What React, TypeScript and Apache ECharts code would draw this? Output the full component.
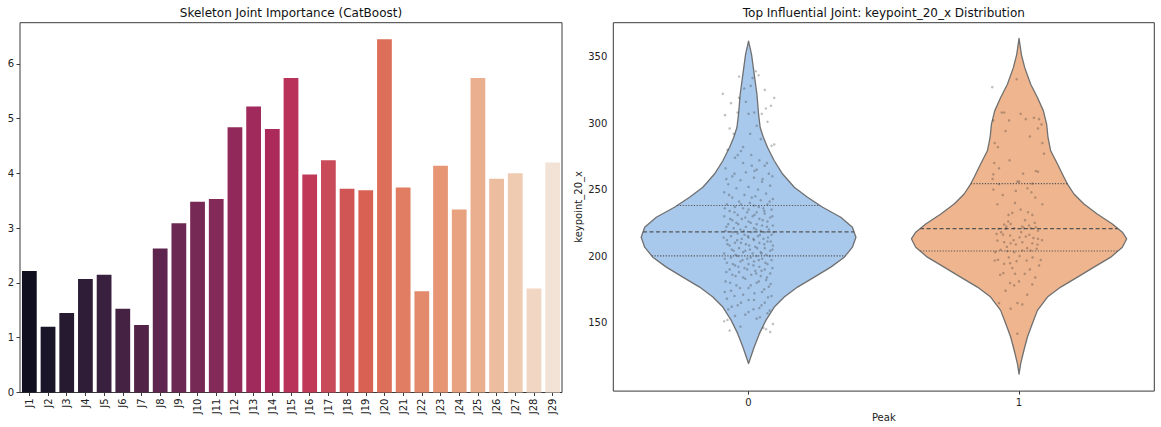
import React, { useEffect, useRef } from 'react';
import * as echarts from 'echarts';

// ---------- Left chart data ----------
const joints = ['J1','J2','J3','J4','J5','J6','J7','J8','J9','J10','J11','J12','J13','J14','J15','J16','J17','J18','J19','J20','J21','J22','J23','J24','J25','J26','J27','J28','J29'];
const importance = [2.22,1.2,1.45,2.07,2.15,1.53,1.23,2.63,3.09,3.48,3.53,4.84,5.22,4.81,5.74,3.98,4.24,3.72,3.69,6.45,3.74,1.85,4.14,3.34,5.74,3.9,4.0,1.9,4.2];
const barColors = ['#100F20','#1B1529','#261A30','#2F1D38','#3A203F','#452244','#512447','#5E264E','#6A2852','#772955','#842A58','#912A5A','#9F2A5B','#AC2A5A','#B8325A','#C03A58','#C94A58','#D05555','#D86154','#DC6E5A','#E07D62','#E3896C','#E69675','#E8A27F','#EAAF8F','#EDBD9F','#EFCBB2','#F1D6C4','#F3E2D6'];
const importanceTicks = [0,1,2,3,4,5,6];

// ---------- Right chart data ----------
const peakClasses = ['0','1'];
const keypointTicks = [150,200,250,300,350];
// violin outline: value and half-width (in category-band units)
const violin0Y = [361.7,351.7,336.7,321.7,306.7,296.7,289.2,281.8,271.7,261.7,251.8,244.3,236.7,229.2,221.7,214.2,206.7,199.2,191.7,184.2,176.7,169.2,161.7,151.7,141.7,131.7,119.2];
const violin0W = [0,0.011,0.021,0.031,0.037,0.043,0.055,0.070,0.095,0.126,0.169,0.218,0.274,0.341,0.384,0.397,0.384,0.354,0.304,0.243,0.181,0.132,0.095,0.064,0.040,0.021,0];
const violin1Y = [363.7,351.7,341.7,329.2,319.3,309.2,299.2,289.2,279.2,269.2,259.3,254.2,246.7,239.2,231.7,224.2,218.0,213.0,206.7,199.2,191.7,184.2,176.7,169.2,159.2,149.2,139.2,129.2,119.2,111.2];
const violin1W = [0,0.0085,0.021,0.043,0.068,0.090,0.102,0.107,0.117,0.142,0.166,0.179,0.203,0.240,0.289,0.345,0.382,0.398,0.382,0.339,0.277,0.216,0.154,0.105,0.068,0.049,0.031,0.018,0.006,0];
const quartiles0 = [200.2,218.2,238.0];
const quartiles1 = [203.8,220.7,254.5];
// strip points: [jitter offset, value]
const strip0 = [
  [0.027,339],[0.037,336],[-0.035,335],[0.015,334],[0.008,328],[-0.016,326],[-0.095,322],[0.095,319],[-0.035,319],[-0.065,315],[0.083,313],[0.064,311],[-0.041,308],[0,307],[0.021,308],[0.049,307],[-0.087,306],[0.07,301],[0.006,292],[-0.055,292],[0.085,283],[0.095,284],[-0.078,280],[-0.028,279],
  [0.01,276],[-0.05,274],[0.04,272],[-0.02,270],[0.06,268],[-0.085,266],[0.03,265],[-0.01,263],[0.075,262],[-0.06,260],[0.02,259],[-0.03,257],[0.05,256],[-0.075,254],[0.08,253],[0.0,252],[-0.045,251],[0.035,250],
  [-0.09,248],[0.065,247],[-0.015,246],[0.025,245],[-0.06,244],[0.09,243],[0.045,242],[-0.035,241],[0.005,240],[-0.08,239],[0.07,239],[0.02,238],[-0.05,237],[0.055,236],[-0.02,236],[0.085,235],[-0.07,234],[0.03,233],[-0.005,233],[0.06,232],[-0.04,231],[0.015,230],[-0.09,230],[0.08,229],[-0.025,228],[0.04,228],[-0.06,227],[0.07,226],[0.0,226],[-0.045,225],[0.03,224],[-0.075,224],[0.09,223],[0.05,223],[-0.01,222],[0.02,221],[-0.055,221],[0.075,220],[-0.03,220],[0.045,219],[-0.085,219],[0.01,218],[0.06,218],[-0.04,217],[-0.015,216],[0.085,216],[0.035,215],[-0.065,215],[0.0,214],[0.055,213],[-0.025,213],[0.02,212],[-0.08,212],[0.07,211],[-0.05,210],[0.04,210],[-0.01,209],[0.09,208],[-0.07,208],[0.025,207],[-0.035,206],[0.06,206],[0.005,205],[-0.055,204],[0.08,204],[0.045,203],[-0.02,203],[-0.09,202],[0.015,202],[0.065,201],[-0.04,200],[0.03,200],[-0.065,199],[0.05,198],[-0.005,198],[0.085,197],[-0.03,196],[0.02,196],[-0.08,195],[0.07,194],[0.0,194],[-0.05,193],[0.04,192],[-0.015,191],[0.06,190],[-0.07,190],[0.025,189],[-0.035,188],[0.08,187],[0.01,186],[-0.06,186],[0.045,185],
  [-0.02,184],[0.065,182],[-0.085,181],[0.03,180],[-0.045,178],[0.075,177],[0.0,176],[-0.065,174],[0.05,173],[-0.02,171],[0.085,170],[-0.08,168],[0.02,167],[0.06,165],[-0.04,163],[0.04,161],[-0.075,160],[0.0,158],[0.07,157],[-0.05,155],[0.03,153],[-0.09,151],[0.09,149],[-0.03,147],[0.055,146],[-0.07,144],[0.08,143],[0.065,145],
  [-0.072,246],[0.012,244],[0.078,241],[-0.028,239],[0.038,237],[-0.088,236],[0.0,235],[0.058,234],[-0.052,233],[0.022,231],[0.088,230],[-0.012,229],[-0.068,228],[0.052,227],[0.008,225],[-0.038,224],[0.068,222],[-0.082,222],[0.028,220],[-0.018,219],[0.092,218],[-0.058,218],[0.042,216],[-0.002,215],[-0.092,214],[0.072,214],[0.018,213],[-0.042,212],[0.082,211],[-0.028,210],[0.058,209],[-0.078,209],[0.002,208],[0.032,206],[-0.062,205],[0.088,205],[-0.012,204],[0.048,202],[-0.048,201],[0.078,200],[0.008,199],[-0.088,198],[0.038,197],[-0.022,197],[0.062,195],[-0.058,194],[0.018,193],[-0.038,192],[0.088,191],[-0.005,190],[0.048,189],[-0.082,188],[0.028,187],[-0.048,185],[0.068,184],[-0.012,183],[0.038,181],[-0.068,180],[0.082,179],[0.008,178],[-0.032,176],[0.058,175],[-0.088,173],[0.022,172],[-0.052,170],[0.072,169],[0.0,167],[-0.028,165],[0.048,163],[-0.062,162],[0.018,160],[0.078,159],[-0.012,156],[0.042,154],[-0.078,152],
  [0.052,258],[-0.052,262],[0.022,264],[-0.082,258],[0.068,270],[-0.04,276],[0.088,260],[0.012,268],[-0.02,282],[0.045,288],[-0.07,296],[0.03,298],[-0.01,316],[0.06,325]
];
const strip1 = [
  [-0.009,333],[-0.099,327],[-0.064,308],[-0.055,308],[0.006,307],[0.055,304],[-0.037,302],[0.025,303],[0.074,303],[-0.095,302],[0.083,299],[-0.09,285],[-0.078,282],[0.086,285],[0.092,277],[-0.092,270],[-0.074,266],[0.062,264],[0.07,263.5],[-0.095,261.5],[-0.098,258],[-0.006,256],[0,256],[0.049,254.5],[-0.074,254],[0.031,251],[-0.095,250],[-0.012,249],[0.046,248],[-0.08,239],[0.086,239],[0.006,235],[-0.039,231],[-0.025,232.5],[0.033,233],[0.049,231],
  [-0.055,223.7],[-0.047,222.2],[-0.031,224.2],[0.012,222.2],[0.037,223],[0.062,221.7],[-0.076,220.5],[-0.049,220.5],[-0.018,221],[0.018,221],[0.043,221],[0.07,219.2],[-0.083,216.7],[-0.059,216.2],[-0.033,215.5],[0.002,214.2],[0.025,214.7],[0.053,213.7],[0.07,213],[-0.08,211.7],[-0.055,210.5],[-0.031,209.7],[-0.012,208.7],[0.012,210.5],[0.049,209.7],[0.068,208.7],[-0.068,204.7],[-0.043,203.7],[-0.018,203],[0.012,204.2],[0.043,204.2],[0.065,205.5],[-0.09,196.7],[-0.078,197.2],[-0.055,194.2],[-0.033,194.7],[-0.009,196.2],[0.028,196.7],[0.074,193],[-0.058,187.2],[-0.015,186.7],[0.021,186.7],[-0.033,179.7],[-0.018,178],[0.049,178.7],[-0.074,164.7],[-0.031,160.5],[-0.006,164.7],[0.012,163.7],[-0.006,141.7],
  [-0.04,226],[0.022,227],[0.058,225],[-0.066,218],[0.008,218],[0.038,216],[-0.02,212],[0.085,212],[-0.045,207],[0.03,206],[-0.088,203],[0.002,200],[0.05,199],[-0.038,199],[0.08,197],[-0.025,191],[0.04,190],[-0.07,186],[0.06,184],[0.0,181],[-0.05,174],[0.03,171],[-0.015,240],[0.06,244],[-0.06,246],[0.015,262],[-0.035,272],[0.04,290],[-0.05,294],[0.07,296]
];

const FONT = 'DejaVu Sans';
const AXIS_COLOR = '#3a3a3a';

function halfWidthAt(ys: number[], ws: number[], v: number): number {
  for (let i = 0; i < ys.length - 1; i++) {
    const a = ys[i], b = ys[i + 1];
    if ((v <= a && v >= b) || (v >= a && v <= b)) {
      const t = (v - a) / (b - a || 1);
      return ws[i] + t * (ws[i + 1] - ws[i]);
    }
  }
  return 0;
}

const violins = [
  { center: 0, ys: violin0Y, ws: violin0W, q: quartiles0, fill: '#A8C8EC' },
  { center: 1, ys: violin1Y, ws: violin1W, q: quartiles1, fill: '#EFB58E' },
];

export default function App() {
  const ref = useRef<HTMLDivElement>(null);
  useEffect(() => {
    if (!ref.current) return;
    const chart = echarts.init(ref.current, null, { renderer: 'svg' });
    const tickStyle = { show: true, length: 3.5, lineStyle: { color: AXIS_COLOR, width: 1 } };
    const labelStyle = { color: '#222', fontSize: 10, fontFamily: FONT };
    const option: any = {
      animation: false,
      backgroundColor: '#ffffff',
      graphic: [
        { type: 'text', x: 291, y: 12.5, style: { text: 'Skeleton Joint Importance (CatBoost)', fontSize: 12, fontFamily: FONT, fill: '#111', textAlign: 'center', textVerticalAlign: 'middle' } },
        { type: 'text', x: 883.8, y: 12.5, style: { text: 'Top Influential Joint: keypoint_20_x Distribution', fontSize: 12, fontFamily: FONT, fill: '#111', textAlign: 'center', textVerticalAlign: 'middle' } },
      ],
      grid: [
        { left: 20, right: 599, top: 22.7, bottom: 34.5, show: true, borderColor: AXIS_COLOR, borderWidth: 1, backgroundColor: 'transparent' },
        { left: 613.3, right: 6.7, top: 22.7, bottom: 34.3, show: true, borderColor: AXIS_COLOR, borderWidth: 1, backgroundColor: 'transparent' },
      ],
      xAxis: [
        {
          type: 'category', gridIndex: 0, data: joints, boundaryGap: true,
          axisLine: { show: false },
          axisTick: { ...tickStyle, alignWithLabel: true, interval: 0 },
          axisLabel: { ...labelStyle, rotate: 90, interval: 0, margin: 6 },
          splitLine: { show: false },
        },
        {
          type: 'category', gridIndex: 1, data: peakClasses, boundaryGap: true,
          axisLine: { show: false },
          axisTick: { ...tickStyle, alignWithLabel: true },
          axisLabel: { ...labelStyle, margin: 6 },
          name: 'Peak', nameLocation: 'middle', nameGap: 18,
          nameTextStyle: { color: '#222', fontSize: 10, fontFamily: FONT },
        },
        { type: 'value', gridIndex: 1, min: -0.5, max: 1.5, show: false },
      ],
      yAxis: [
        {
          type: 'value', gridIndex: 0, min: 0, max: 6.75,
          axisLine: { show: false },
          axisTick: { ...tickStyle, customValues: importanceTicks },
          axisLabel: { ...labelStyle, margin: 6, customValues: importanceTicks },
          splitLine: { show: false },
        },
        {
          type: 'value', gridIndex: 1, min: 98.5, max: 375.5,
          axisLine: { show: false },
          axisTick: { ...tickStyle, customValues: keypointTicks },
          axisLabel: { ...labelStyle, margin: 6, customValues: keypointTicks },
          splitLine: { show: false },
          name: 'keypoint_20_x', nameLocation: 'middle', nameGap: 30, nameRotate: 90,
          nameTextStyle: { color: '#222', fontSize: 10, fontFamily: FONT },
        },
      ],
      series: [
        {
          type: 'bar', xAxisIndex: 0, yAxisIndex: 0, barWidth: '79%',
          data: importance.map((v, i) => ({ value: v, itemStyle: { color: barColors[i] } })),
          silent: true,
        },
        {
          type: 'custom', xAxisIndex: 2, yAxisIndex: 1, z: 2, silent: true,
          data: violins.map((v) => [v.center, 200]),
          renderItem: (params: any, api: any) => {
            const vi = violins[params.dataIndex];
            const right = vi.ys.map((y, i) => api.coord([vi.center + vi.ws[i], y]));
            const left = vi.ys.map((y, i) => api.coord([vi.center - vi.ws[i], y])).reverse();
            const children: any[] = [
              { type: 'polygon', shape: { points: right.concat(left) }, style: { fill: vi.fill, stroke: '#707070', lineWidth: 1.3, lineJoin: 'round' } },
            ];
            vi.q.forEach((q, k) => {
              const hw = halfWidthAt(vi.ys, vi.ws, q);
              const a = api.coord([vi.center - hw, q]);
              const b = api.coord([vi.center + hw, q]);
              children.push({
                type: 'line',
                shape: { x1: a[0], y1: a[1], x2: b[0], y2: b[1] },
                style: { stroke: '#555', lineWidth: 1.1, lineDash: k === 1 ? [4, 2.5] : [1.2, 1.6] },
              });
            });
            return { type: 'group', children };
          },
        },
        {
          type: 'scatter', xAxisIndex: 2, yAxisIndex: 1, z: 3, silent: true,
          symbolSize: 2.5,
          itemStyle: { color: 'rgba(45,45,45,0.38)' },
          data: strip0.map(([dx, v]) => [0 + dx, v]).concat(strip1.map(([dx, v]) => [1 + dx, v])),
        },
      ],
    };
    chart.setOption(option);
    return () => chart.dispose();
  }, []);
  return <div ref={ref} style={{ position: 'absolute', left: 0, top: 0, width: 1161, height: 427, background: '#fff' }} />;
}
